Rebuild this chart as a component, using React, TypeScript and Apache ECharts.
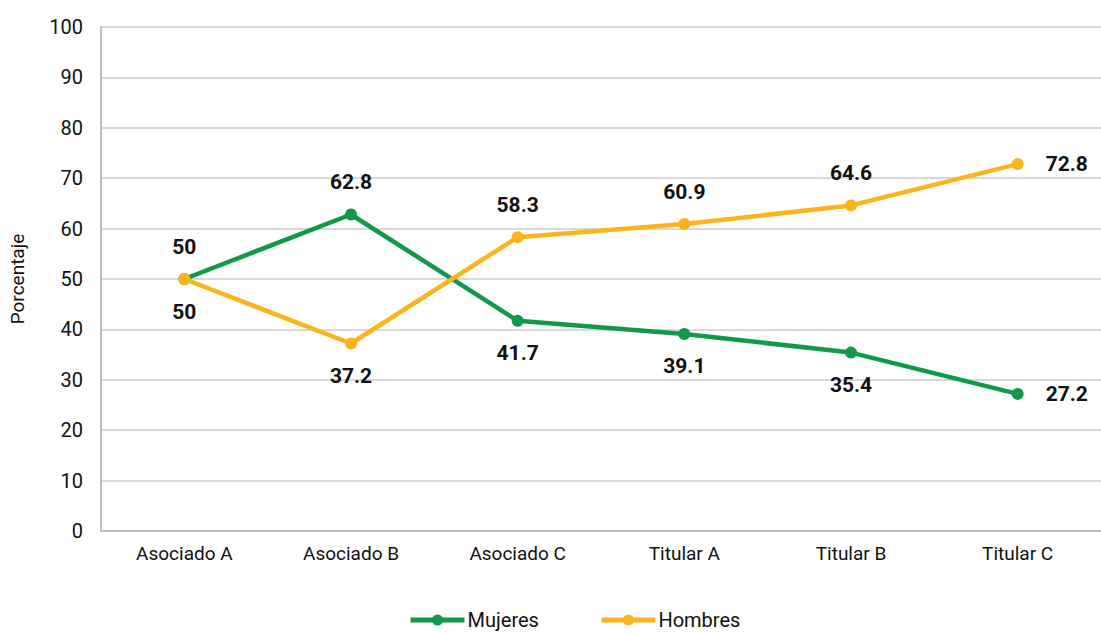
import React, { useEffect, useRef } from "react";
import * as echarts from "echarts";

const categories = ["Asociado A", "Asociado B", "Asociado C", "Titular A", "Titular B", "Titular C"];
const mujeres = [50, 62.8, 41.7, 39.1, 35.4, 27.2];
const hombres = [50, 37.2, 58.3, 60.9, 64.6, 72.8];
const mujeresLabelPos = ["bottom", "top", "bottom", "bottom", "bottom", "right"];
const hombresLabelPos = ["top", "bottom", "top", "top", "top", "right"];

const GREEN = "#11994a";
const YELLOW = "#fbb41c";
const FONT = "Roboto, 'Noto Sans', sans-serif";

function buildData(vals: number[], pos: string[]) {
  return vals.map((v, i) => ({
    value: v,
    label: { position: pos[i], distance: pos[i] === "right" ? 22 : 16 },
  }));
}

export default function App() {
  const ref = useRef<HTMLDivElement>(null);
  useEffect(() => {
    if (!ref.current) return;
    const chart = echarts.init(ref.current, undefined, { renderer: "svg" });
    const labelStyle = {
      show: true,
      fontSize: 21,
      fontWeight: "bold" as const,
      color: "#111",
      fontFamily: FONT,
    };
    chart.setOption({
      animation: false,
      grid: { left: 100, right: 0, top: 27, bottom: 102, containLabel: false },
      legend: {
        top: 605,
        left: 403,
        itemWidth: 54,
        itemHeight: 14,
        itemGap: 60,
        lineStyle: { width: 5 },
        textStyle: { fontSize: 20, color: "#111", fontFamily: FONT, padding: [0, 0, 0, -2] },
        data: ["Mujeres", "Hombres"],
      },
      xAxis: {
        type: "category",
        data: categories,
        boundaryGap: true,
        axisLine: { lineStyle: { color: "#bfbfbf", width: 2 } },
        axisTick: { show: false },
        axisLabel: { fontSize: 19, color: "#111", margin: 13, fontFamily: FONT },
      },
      yAxis: {
        type: "value",
        min: 0,
        max: 100,
        interval: 10,
        name: "Porcentaje",
        nameLocation: "middle",
        nameGap: 74,
        nameTextStyle: { fontSize: 19, color: "#111", fontFamily: FONT },
        axisLine: { show: true, lineStyle: { color: "#bfbfbf", width: 2 } },
        axisTick: { show: false },
        axisLabel: { fontSize: 20, color: "#111", margin: 18, fontFamily: FONT },
        splitLine: { lineStyle: { color: "#d9d9d9", width: 2 } },
      },
      series: [
        {
          name: "Mujeres",
          type: "line",
          data: buildData(mujeres, mujeresLabelPos),
          symbol: "circle",
          symbolSize: 12,
          lineStyle: { color: GREEN, width: 4.5 },
          itemStyle: { color: GREEN },
          label: labelStyle,
          z: 3,
        },
        {
          name: "Hombres",
          type: "line",
          data: buildData(hombres, hombresLabelPos),
          symbol: "circle",
          symbolSize: 12,
          lineStyle: { color: YELLOW, width: 4.5 },
          itemStyle: { color: YELLOW },
          label: labelStyle,
          z: 4,
        },
      ],
    });
    return () => chart.dispose();
  }, []);
  return <div ref={ref} style={{ width: 1101, height: 633, position: "absolute", left: 0, top: 0 }} />;
}
